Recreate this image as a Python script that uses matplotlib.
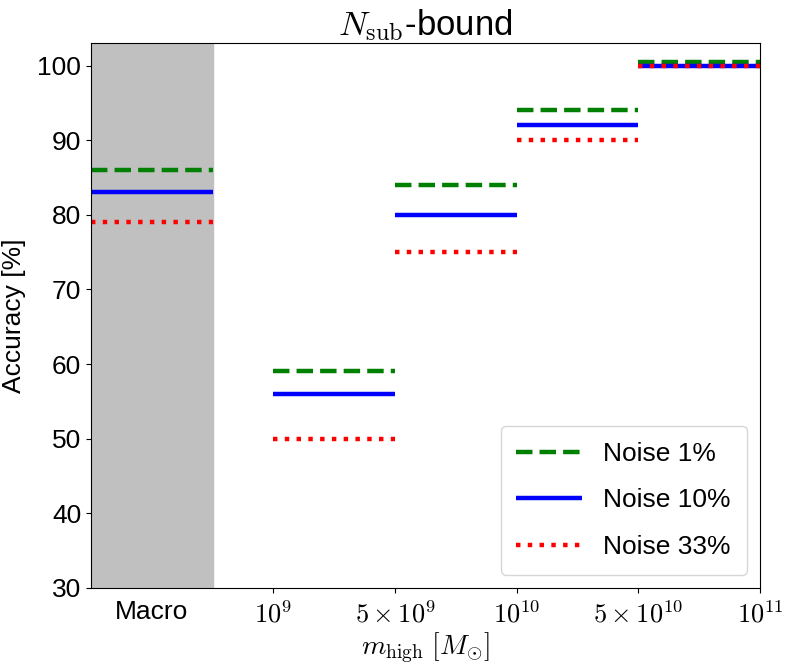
import matplotlib
matplotlib.use("Agg")
import matplotlib.pyplot as plt

plt.rcParams['font.family'] = ['Liberation Sans', 'DejaVu Sans']
plt.rcParams['mathtext.fontset'] = 'cm'

# bins: Macro, then mass bins between ticks
bin_left = [-0.5, 1, 2, 3, 4]
bin_right = [0.5, 2, 3, 4, 5]
noise1 = [86, 59, 84, 94, 100.5]
noise10 = [83, 56, 80, 92, 100]
noise33 = [79, 50, 75, 90, 100]

tick_pos = [1, 2, 3, 4, 5]
tick_labels = [r'$10^{9}$', r'$5\times10^{9}$', r'$10^{10}$', r'$5\times10^{10}$', r'$10^{11}$']

fig = plt.figure(figsize=(7.9, 6.65), dpi=100)
ax = fig.add_axes([0.115, 0.116, 0.847, 0.819])

ax.axvspan(-0.5, 0.5, color='silver', zorder=0)

for i in range(len(bin_left)):
    ax.hlines(noise1[i], bin_left[i], bin_right[i], colors='green', linestyles='dashed', lw=3.2,
              label='Noise 1%' if i == 0 else None)
    ax.hlines(noise10[i], bin_left[i], bin_right[i], colors='blue', linestyles='solid', lw=3.2,
              label='Noise 10%' if i == 0 else None)
    ax.hlines(noise33[i], bin_left[i], bin_right[i], colors='red', linestyles='dotted', lw=3.2,
              label='Noise 33%' if i == 0 else None)

ax.set_xlim(-0.5, 5)
ax.set_ylim(30, 103)
ax.set_xticks(tick_pos)
ax.set_xticklabels(tick_labels, fontsize=19)
ax.set_xticks([0], minor=True)
ax.set_xticklabels(['Macro'], minor=True, fontsize=19)
ax.tick_params(axis='x', which='minor', length=0, pad=9)
ax.tick_params(axis='x', which='major', pad=6)
ax.tick_params(axis='y', labelsize=19)

ax.set_xlabel(r'$m_{\rm high}\ [M_{\odot}]$', fontsize=20, labelpad=2)
ax.set_ylabel('Accuracy [%]', fontsize=19, labelpad=8)
ax.set_title(r'$N_{\rm sub}$-bound', fontsize=25, pad=4)

ax.legend(loc='lower right', fontsize=19, handlelength=2.5, labelspacing=0.85,
          borderpad=0.6)

fig.savefig('out.png', dpi=100)
